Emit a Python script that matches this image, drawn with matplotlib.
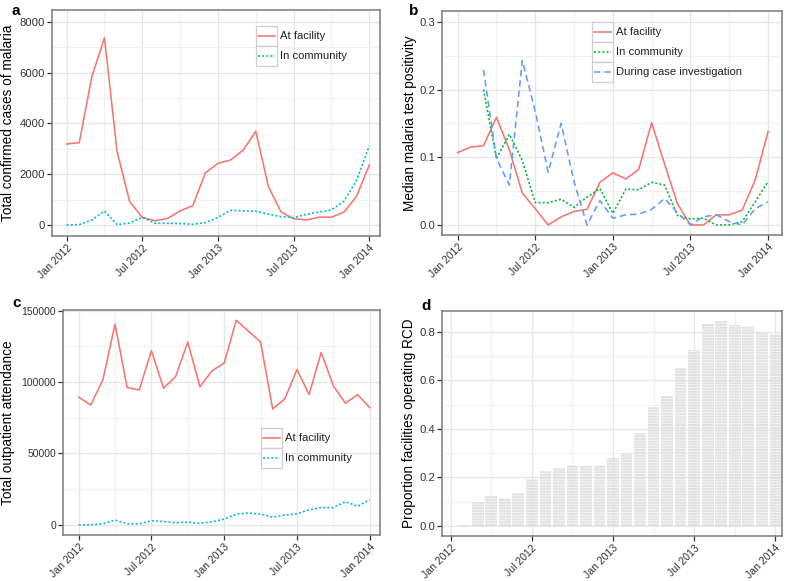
import numpy as np
import matplotlib
matplotlib.use("Agg")
import matplotlib.pyplot as plt
from matplotlib.lines import Line2D
from matplotlib.patches import Rectangle

plt.rcParams['font.family'] = ['Liberation Sans', 'DejaVu Sans']
plt.rcParams['hatch.linewidth'] = 0.6

# ---------------- data ----------------
months = list(range(25))  # Jan 2012 .. Jan 2014, monthly
tick_pos = [0, 6, 12, 18, 24]
tick_labels = ["Jan 2012", "Jul 2012", "Jan 2013", "Jul 2013", "Jan 2014"]

cases_facility = [3190, 3240, 5840, 7370, 2890, 920, 300, 170, 260, 560, 760, 2050,
                  2430, 2560, 2950, 3690, 1510, 520, 250, 200, 310, 310, 510, 1140, 2360]
cases_community = [0, 20, 200, 550, 20, 80, 300, 70, 70, 60, 30, 100,
                   300, 580, 560, 540, 430, 330, 290, 420, 510, 600, 940, 1770, 3120]

pos_facility = [0.107, 0.115, 0.117, 0.159, 0.111, 0.047, 0.024, 0.0, 0.012, 0.020, 0.023, 0.063,
                0.077, 0.068, 0.082, 0.151, 0.090, 0.031, 0.0, 0.0, 0.015, 0.015, 0.022, 0.066, 0.138]
pos_community = [None, None, 0.200, 0.098, 0.134, 0.095, 0.033, 0.033, 0.038, 0.026, 0.041, 0.054,
                 0.017, 0.053, 0.052, 0.063, 0.059, 0.014, 0.009, 0.010, 0.0, 0.0, 0.005, 0.034, 0.064]
pos_investigation = [None, None, 0.229, 0.098, 0.059, 0.243, 0.168, 0.078, 0.150, 0.064, 0.0, 0.036,
                     0.010, 0.015, 0.016, 0.023, 0.039, 0.018, 0.0, 0.012, 0.015, 0.005, 0.0, 0.024, 0.034]

opd_facility = [89300, 83900, 101500, 140400, 96100, 94400, 121900, 95600, 103800, 128000, 96600, 107800,
                113200, 143200, 135500, 128000, 81100, 88100, 108700, 91200, 120700, 97300, 85100, 91200, 82000]
opd_community = [0, 0, 700, 3300, 700, 700, 2800, 2300, 1400, 1900, 900, 2100,
                 4000, 7500, 8200, 7500, 5400, 6800, 7700, 10500, 12000, 12000, 16200, 12900, 17600]

rcd_prop = [0.0, 0.004, 0.098, 0.122, 0.113, 0.135, 0.193, 0.225, 0.239, 0.251, 0.246, 0.251,
            0.280, 0.301, 0.384, 0.492, 0.535, 0.651, 0.727, 0.834, 0.844, 0.829, 0.823, 0.796, 0.790]

# ---------------- style ----------------
RED = '#F8766D'
TEAL = '#00BFC4'
GREEN = '#00BA38'
BLUE = '#619CFF'
DOT = (0, (1.3, 1.3))
DASH = (0, (4, 2.5))
LW = 1.15
W, H = 785, 581

fig = plt.figure(figsize=(W / 100, H / 100), dpi=100)


def fax(l, t, r, b):
    return fig.add_axes([l / W, 1 - b / H, (r - l) / W, (b - t) / H])


def style(ax, yticks, yminor, xlim, ylim, fmt, yfs=8.1):
    ax.set_xlim(*xlim)
    ax.set_ylim(*ylim)
    ax.set_xticks(tick_pos)
    ax.set_xticklabels(tick_labels, rotation=45, ha='right', va='top',
                       rotation_mode='anchor', fontsize=7.6, color='#333333')
    ax.set_xticks([3, 9, 15, 21], minor=True)
    ax.set_yticks(yticks)
    ax.set_yticklabels([fmt(v) for v in yticks], fontsize=yfs, color='#333333')
    ax.set_yticks(yminor, minor=True)
    ax.grid(True, which='major', color='#e6e6e6', lw=0.9, zorder=0)
    ax.grid(True, which='minor', color='#f0f0f0', lw=0.7, zorder=0)
    ax.tick_params(which='major', length=3.5, width=0.9, color='#333333', pad=1.5)
    ax.tick_params(which='minor', length=0)
    for s in ax.spines.values():
        s.set_color('#7a7a7a')
        s.set_linewidth(1.1)
    ax.set_axisbelow(True)


def ylabel(ax, text, xpix, axleft, axright):
    # xpix: right edge (baseline side) of the rotated label in figure pixels
    ax.set_ylabel(text, fontsize=9.8)
    ax.yaxis.set_label_coords((xpix - axleft) / (axright - axleft), 0.5)


def legend(x0, y0, labels, colors, styles, kw=21, kh=20):
    for i, (lab, c, ls) in enumerate(zip(labels, colors, styles)):
        top = y0 + i * kh
        fig.add_artist(Rectangle((x0 / W, 1 - (top + kh) / H), kw / W, kh / H,
                                 transform=fig.transFigure, facecolor='white',
                                 edgecolor='#cfcfcf', lw=0.9))
        yc = 1 - (top + kh / 2) / H
        fig.add_artist(Line2D([(x0 + 2) / W, (x0 + kw - 2) / W], [yc, yc],
                              transform=fig.transFigure, color=c, lw=LW, linestyle=ls))
        fig.text((x0 + kw + 3) / W, yc, lab, fontsize=8.1, va='center', ha='left', color='#222222')


# ---------------- panel a ----------------
axa = fax(52, 10, 380, 236)
axa.plot(months, cases_facility, color=RED, lw=LW)
axa.plot(months, cases_community, color=TEAL, lw=LW, linestyle=DOT)
style(axa, [0, 2000, 4000, 6000, 8000], [1000, 3000, 5000, 7000],
      (-1.16, 24.85), (-430, 8460), lambda v: f"{v:d}")
ylabel(axa, "Total confirmed cases of malaria", 15, 52, 380)
legend(256, 26, ["At facility", "In community"], [RED, TEAL], ['-', DOT])
fig.text(12 / W, 1 - 11 / H, "a", fontsize=11, fontweight='bold', va='center')

# ---------------- panel b ----------------
axb = fax(442, 11, 782, 235)
axb.plot(months, pos_facility, color=RED, lw=LW)
m = [i for i, v in enumerate(pos_community) if v is not None]
axb.plot(m, [pos_community[i] for i in m], color=GREEN, lw=LW, linestyle=DOT)
m = [i for i, v in enumerate(pos_investigation) if v is not None]
axb.plot(m, [pos_investigation[i] for i in m], color=BLUE, lw=LW, linestyle=DASH)
style(axb, [0.0, 0.1, 0.2, 0.3], [0.05, 0.15, 0.25],
      (-1.21, 25.08), (-0.0148, 0.316), lambda v: f"{v:.1f}")
ylabel(axb, "Median malaria test positivity", 417, 442, 782)
legend(592, 22, ["At facility", "In community", "During case investigation"],
       [RED, GREEN, BLUE], ['-', DOT, DASH])
fig.text(409 / W, 1 - 11 / H, "b", fontsize=11, fontweight='bold', va='center')

# ---------------- panel c ----------------
axc = fax(63, 310, 380, 535)
axc.plot(months, opd_facility, color=RED, lw=LW)
axc.plot(months, opd_community, color=TEAL, lw=LW, linestyle=DOT)
style(axc, [0, 50000, 100000, 150000], [25000, 75000, 125000],
      (-1.29, 24.85), (-7160, 150360), lambda v: f"{v:d}", yfs=7.5)
ylabel(axc, "Total outpatient attendance", 15, 63, 380)
legend(261, 428, ["At facility", "In community"], [RED, TEAL], ['-', DOT])
fig.text(12 / W, 1 - 303 / H, "c", fontsize=11, fontweight='bold', va='center')

# ---------------- panel d ----------------
axd = fax(442, 311, 782, 536)
axd.bar(months, rcd_prop, width=0.86, color='#d9d9d9', alpha=0.75,
        edgecolor='white', linewidth=0, hatch='------', zorder=2)
style(axd, [0.0, 0.2, 0.4, 0.6, 0.8], [0.1, 0.3, 0.5, 0.7],
      (-0.64, 24.49), (-0.042, 0.886), lambda v: f"{v:.1f}")
ylabel(axd, "Proportion facilities operating RCD", 416, 442, 782)
fig.text(421 / W, 1 - 306 / H, "d", fontsize=11, fontweight='bold', va='center')

fig.savefig("out.png", dpi=100)
